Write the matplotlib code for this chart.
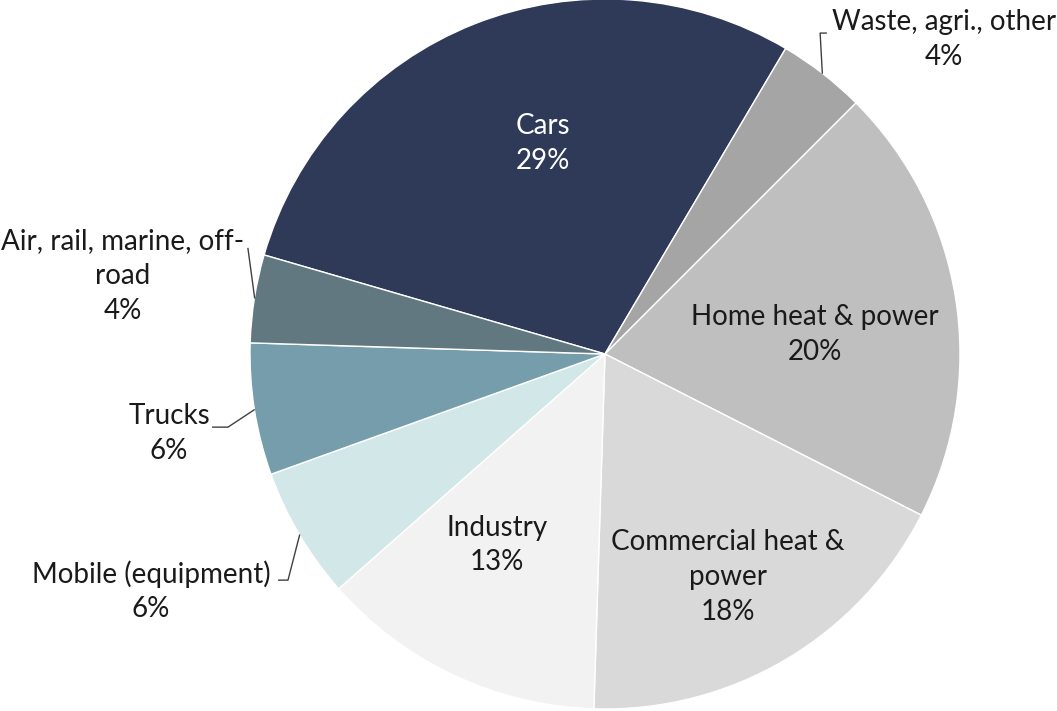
import matplotlib
matplotlib.use("Agg")
import matplotlib.pyplot as plt
import numpy as np

categories = ["Cars", "Waste, agri., other", "Home heat & power", "Commercial heat &\npower",
              "Industry", "Mobile (equipment)", "Trucks", "Air, rail, marine, off-\nroad"]
values = [29, 4, 20, 18, 13, 6, 6, 4]
colors = ["#2E3A58", "#A5A5A5", "#BFBFBF", "#D9D9D9", "#F2F2F2", "#D1E7E8", "#759DAC", "#617880"]
text_colors = ["white", "#1a1a1a", "#1a1a1a", "#1a1a1a", "#1a1a1a", "#1a1a1a", "#1a1a1a", "#1a1a1a"]

# label layout (pie radius = 1)
label_pos = [(-0.175, 0.594), (0.955, 0.885), (0.592, 0.054), (0.346, -0.628),
             (-0.304, -0.538), (-1.279, -0.668), (-1.228, -0.223), (-1.358, 0.220)]
# leader line elbows for outside labels
leaders = {1: [(0.606, 0.904), (0.625, 0.904)],
           5: [(-0.893, -0.637), (-0.921, -0.637)],
           6: [(-1.062, -0.206), (-1.107, -0.206)],
           7: [(-1.006, 0.299)]}

START = 163.8

fig = plt.figure(figsize=(10.57, 7.11), dpi=100)
ax = fig.add_axes([0, 0, 1, 1])
wedges, _ = ax.pie(values, colors=colors, startangle=START, counterclock=False,
                   radius=1.0, wedgeprops=dict(edgecolor="white", linewidth=1.0))
ax.set_xlim(-605 / 355, (1057 - 605) / 355)
ax.set_ylim(-357 / 355, 354 / 355)
ax.set_aspect("equal")
ax.axis("off")

for i, (cat, v) in enumerate(zip(categories, values)):
    x, y = label_pos[i]
    ax.text(x, y, f"{cat}\n{v}%", ha="center", va="center", multialignment="center",
            fontsize=20, family="Lato", color=text_colors[i], linespacing=1.42)
    if i in leaders:
        w = wedges[i]
        mid = np.deg2rad((w.theta1 + w.theta2) / 2)
        pts = [(np.cos(mid) * 0.999, np.sin(mid) * 0.999)] + leaders[i]
        xs, ys = zip(*pts)
        ax.plot(xs, ys, color="#404040", lw=1.0, solid_capstyle="butt")

fig.savefig("out.png", dpi=100)
